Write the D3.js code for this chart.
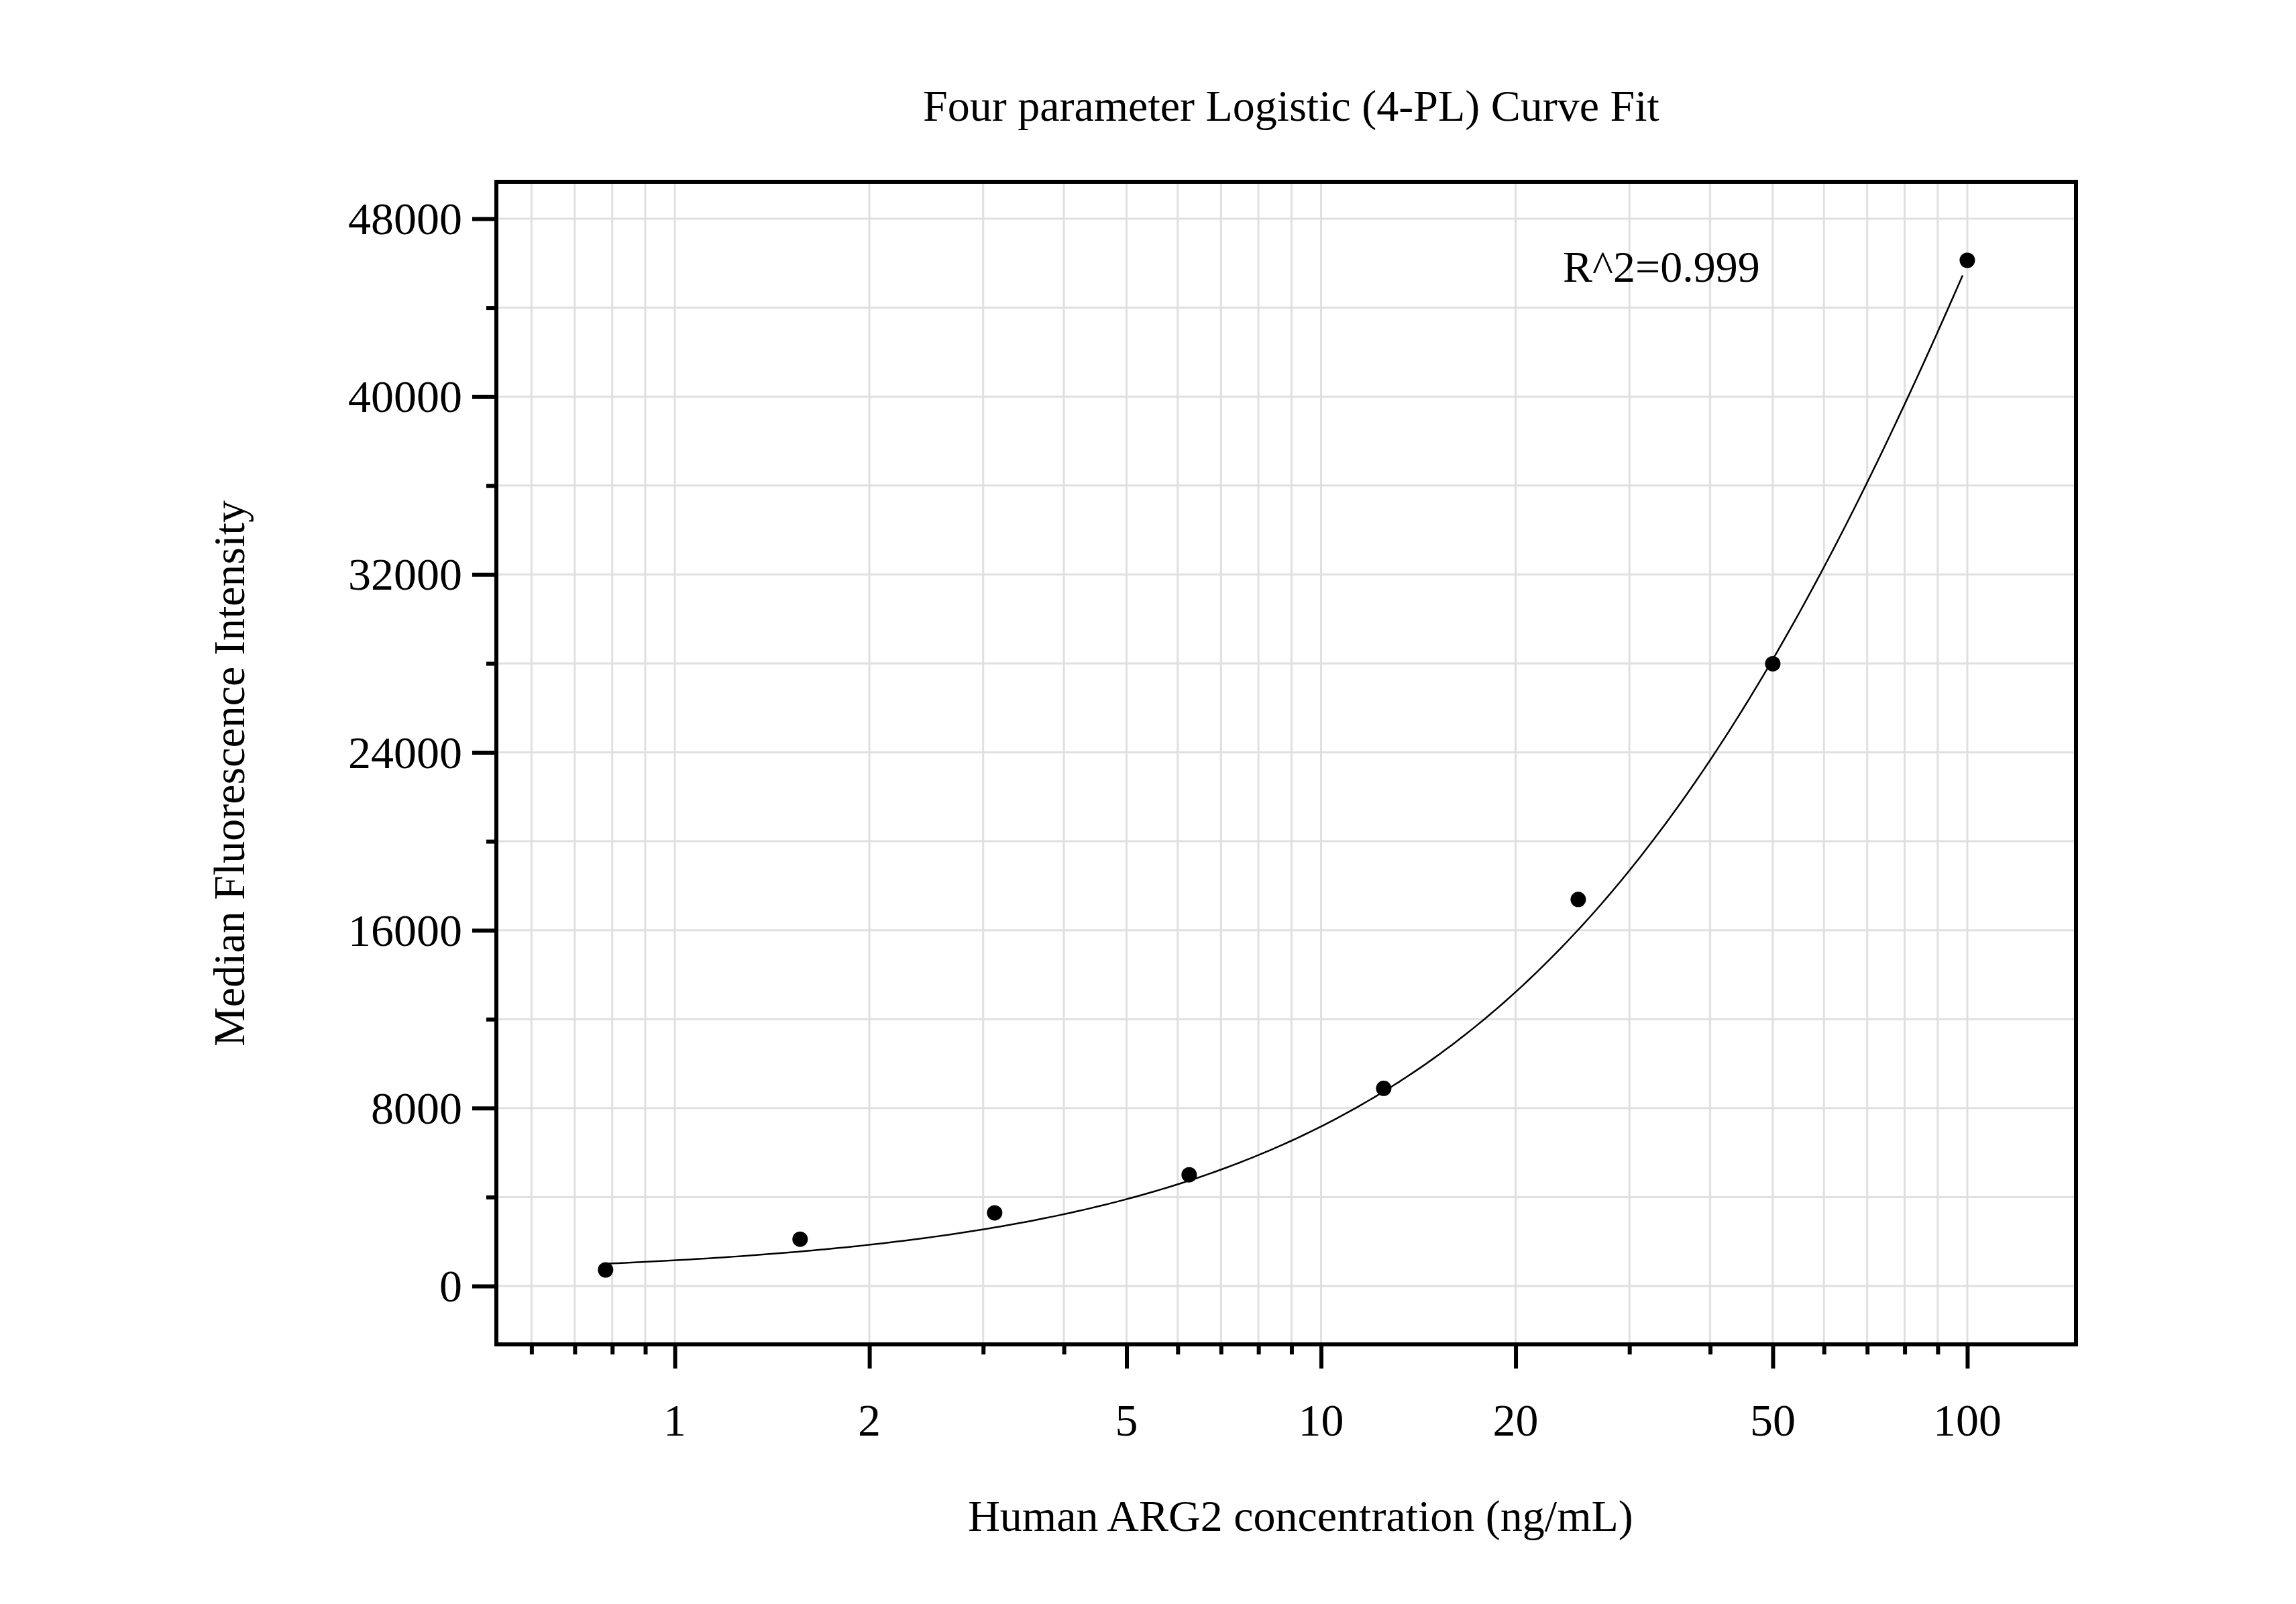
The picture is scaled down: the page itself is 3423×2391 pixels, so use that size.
<!DOCTYPE html>
<html><head><meta charset="utf-8">
<script src="https://cdn.jsdelivr.net/npm/d3@7"></script>
<style>body{margin:0;background:#fff}text{font-family:"Liberation Serif","Times New Roman",serif;fill:#000}</style>
</head><body>
<script>
const concentrations=[0.78125,1.5625,3.125,6.25,12.5,25,50,100];
const mfi=[724,2107,3292,5004,8889,17383,27984,46130];
const xTickLabels=[1,2,5,10,20,50,100];
const yTickLabels=[0,8000,16000,24000,32000,40000,48000];
// fitted 4PL parameters
const fitA=450, fitB=1.0, fitC=178, fitD=126900;
const r2Label="R^2=0.999";

const W=3423,H=2391;
const L=740,R=3095,T=271,B=2004;
const svg=d3.select("body").append("svg").attr("width",W).attr("height",H);
const x=d3.scaleLog().domain([Math.pow(10,-0.2762),Math.pow(10,2.1682)]).range([L,R]);
const y=d3.scaleLinear().domain([-2625,49660]).range([B,T]);

const minorX=[];
for(const dec of [0.1,1,10,100]) for(let k=1;k<10;k++){const v=dec*k; if(x(v)>L+2&&x(v)<R-2) minorX.push(v);}
const gridY=d3.range(0,49000,4000);
const g=svg.append("g");
g.selectAll(".gx").data(minorX).join("line").attr("x1",d=>x(d)).attr("x2",d=>x(d)).attr("y1",T).attr("y2",B).attr("stroke","#e0e0e0").attr("stroke-width",3);
g.selectAll(".gy").data(gridY).join("line").attr("y1",d=>y(d)).attr("y2",d=>y(d)).attr("x1",L).attr("x2",R).attr("stroke","#e0e0e0").attr("stroke-width",3);

const xAxis=d3.axisBottom(x).tickValues(minorX).tickSize(15).tickFormat("");
svg.append("g").attr("transform",`translate(0,${B})`).call(xAxis).call(a=>{a.select(".domain").remove();a.selectAll("line").attr("stroke","#000").attr("stroke-width",6)
 .filter(d=>xTickLabels.includes(+d.toFixed(6))).attr("y2",36);});
svg.append("g").selectAll("text").data(xTickLabels).join("text").attr("x",d=>x(d)).attr("y",2140).attr("text-anchor","middle").attr("font-size",68).text(d=>d);

const yAxis=d3.axisLeft(y).tickValues(gridY).tickSize(15).tickFormat("");
svg.append("g").attr("transform",`translate(${L},0)`).call(yAxis).call(a=>{a.select(".domain").remove();a.selectAll("line").attr("stroke","#000").attr("stroke-width",6)
 .filter(d=>d%8000===0).attr("x2",-36);});
svg.append("g").selectAll("text").data(yTickLabels).join("text").attr("x",689).attr("y",d=>y(d)+23).attr("text-anchor","end").attr("font-size",68).text(d=>d);

const f=v=>fitD+(fitA-fitD)/(1+Math.pow(v/fitC,fitB));
const lx=d3.range(Math.log10(0.78125),2.0001,0.01).map(l=>Math.pow(10,l));
svg.append("path").datum(lx).attr("fill","none").attr("stroke","#000").attr("stroke-width",2.5)
 .attr("d",d3.line().x(d=>x(d)).y(d=>y(f(d))));
svg.append("g").selectAll("circle").data(concentrations).join("circle").attr("cx",d=>x(d)).attr("cy",(d,i)=>y(mfi[i])).attr("r",11.5).attr("fill","#000");

svg.append("rect").attr("x",L).attr("y",T).attr("width",R-L).attr("height",B-T).attr("fill","none").attr("stroke","#000").attr("stroke-width",6);

svg.append("text").attr("x",1925).attr("y",180).attr("text-anchor","middle").attr("font-size",66).text("Four parameter Logistic (4-PL) Curve Fit");
svg.append("text").attr("x",1939).attr("y",2282).attr("text-anchor","middle").attr("font-size",66).text("Human ARG2 concentration (ng/mL)");
svg.append("text").attr("transform","translate(364,1153) rotate(-90)").attr("text-anchor","middle").attr("font-size",66).text("Median Fluorescence Intensity");
svg.append("text").attr("x",2330).attr("y",420).attr("font-size",66).text(r2Label);
</script></body></html>
